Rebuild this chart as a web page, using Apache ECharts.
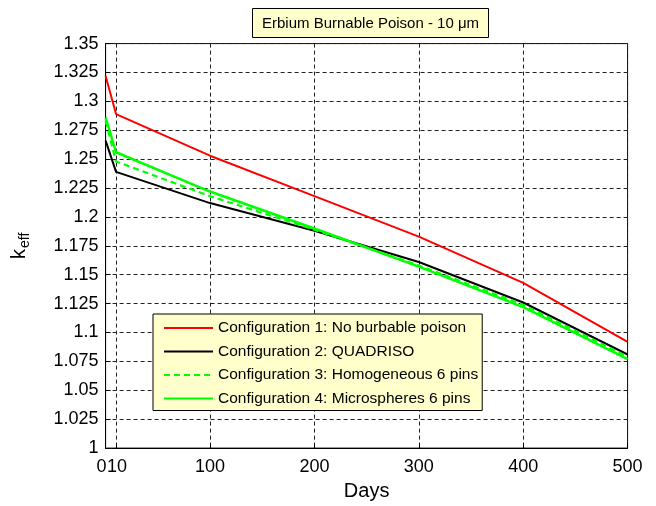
<!DOCTYPE html>
<html>
<head>
<meta charset="utf-8">
<script src="https://cdn.jsdelivr.net/npm/echarts@6/dist/echarts.min.js"></script>
<style>html,body{margin:0;padding:0;background:#fff}#c{width:656px;height:506px}</style>
</head>
<body>
<div id="c"></div>
<script>
var days = [0, 10, 100, 200, 300, 400, 500];
var config1 = [1.322, 1.289, 1.253, 1.218, 1.183, 1.143, 1.092];
var config2 = [1.266, 1.239, 1.212, 1.188, 1.161, 1.126, 1.081];
var config3 = [1.283, 1.248, 1.218, 1.189, 1.158, 1.124, 1.079];
var config4 = [1.286, 1.256, 1.222, 1.190, 1.157, 1.122, 1.077];
var xTicks = [0, 10, 100, 200, 300, 400, 500];
var seriesNames = ['Configuration 1: No burbable poison', 'Configuration 2: QUADRISO',
  'Configuration 3: Homogeneous 6 pins', 'Configuration 4: Microspheres 6 pins'];
var titleText = 'Erbium Burnable Poison - 10 \u03bcm';

function pairs(ys) { return days.map(function (d, i) { return [d, ys[i]]; }); }
var FONT = 'Liberation Sans, Arial, Helvetica, sans-serif';
var chart = echarts.init(document.getElementById('c'), null, {renderer: 'canvas'});
function mk(name, ys, color, type, width) {
  return {
    name: name, type: 'line', data: pairs(ys), symbol: 'none', showSymbol: false,
    lineStyle: {color: color, width: width, type: type}, itemStyle: {color: color},
    emphasis: {disabled: true}, animation: false
  };
}
chart.setOption({
  animation: false,
  backgroundColor: '#fff',
  textStyle: {fontFamily: FONT},
  title: {
    text: titleText, left: 252, top: 8,
    padding: [8, 10, 7, 10],
    backgroundColor: '#ffffcc', borderColor: '#000', borderWidth: 1,
    textStyle: {fontSize: 15, fontWeight: 'normal', color: '#000', fontFamily: FONT}
  },
  legend: {
    orient: 'vertical', left: 153, top: 314,
    padding: [6, 4, 4, 10],
    itemWidth: 49, itemHeight: 16, itemGap: 7.5,
    itemStyle: {opacity: 0},
    backgroundColor: '#ffffcc', borderColor: '#000', borderWidth: 1, borderRadius: 0,
    textStyle: {fontSize: 15.5, color: '#000', fontFamily: FONT},
    data: seriesNames
  },
  grid: {left: 105.6, right: 28.4, top: 43.6, bottom: 53, show: true,
    borderColor: '#000', borderWidth: 1, backgroundColor: 'transparent', containLabel: false},
  xAxis: {
    type: 'value', min: 0, max: 500,
    name: 'Days', nameLocation: 'middle', nameGap: 31,
    nameTextStyle: {fontSize: 20, color: '#000', fontFamily: FONT},
    axisLine: {show: true, lineStyle: {color: '#000', width: 1}},
    axisTick: {show: true, inside: true, length: 5, customValues: xTicks, lineStyle: {color: '#000'}},
    axisLabel: {customValues: xTicks, color: '#000', fontSize: 18, margin: 10, fontFamily: FONT,
      showMinLabel: true, showMaxLabel: true, hideOverlap: false,
      formatter: function (v) { return v === 0 ? '{z|0}' : (v === 10 ? '{t|10}' : String(v)); },
      rich: {z: {fontSize: 18, color: '#000', padding: [0, 8, 0, 0], fontFamily: FONT},
             t: {fontSize: 18, color: '#000', padding: [0, 0, 0, 2], fontFamily: FONT}}},
    splitLine: {show: true, lineStyle: {color: '#222', width: 1, type: [4, 3]}}
  },
  yAxis: {
    type: 'value', min: 1, max: 1.35, interval: 0.025,
    name: '{k|k}{s|eff}', nameLocation: 'middle', nameGap: 73, nameRotate: 90,
    nameTextStyle: {color: '#000', fontFamily: FONT,
      rich: {k: {fontSize: 20, color: '#000', fontFamily: FONT, lineHeight: 26, verticalAlign: 'middle'},
             s: {fontSize: 14, color: '#000', fontFamily: FONT, lineHeight: 14, verticalAlign: 'bottom', padding: [0, 0, 0, 1]}}},
    axisLine: {show: true, lineStyle: {color: '#000', width: 1}},
    axisTick: {show: true, inside: true, length: 5, lineStyle: {color: '#000'}},
    axisLabel: {color: '#000', fontSize: 18, margin: 7, fontFamily: FONT},
    splitLine: {show: true, lineStyle: {color: '#222', width: 1, type: [4, 3]}}
  },
  series: [
    mk(seriesNames[0], config1, '#ff0000', 'solid', 2),
    mk(seriesNames[1], config2, '#000000', 'solid', 2),
    mk(seriesNames[2], config3, '#00ff00', [6, 4], 2.2),
    mk(seriesNames[3], config4, '#00ff00', 'solid', 2.5)
  ]
});
</script>
</body>
</html>
